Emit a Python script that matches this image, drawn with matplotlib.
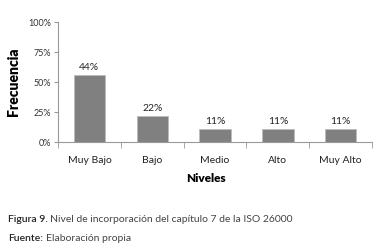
import matplotlib.pyplot as plt
import numpy as np

plt.rcParams['font.family'] = ['Lato', 'DejaVu Sans']

niveles = ["Muy Bajo", "Bajo", "Medio", "Alto", "Muy Alto"]
alturas = [56, 22, 11, 11, 11]
etiquetas = ["44%", "22%", "11%", "11%", "11%"]
yticks = [0, 25, 50, 75, 100]

fig = plt.figure(figsize=(3.77, 2.48), dpi=100)
ax = fig.add_axes([0.154, 0.427, 0.833, 0.484])
x = np.arange(len(niveles))
ax.bar(x, alturas, width=0.5, color="#808080", edgecolor="#bcbcbc", linewidth=0.6)
for xi, h, lab in zip(x, alturas, etiquetas):
    ax.text(xi, h + 2, lab, ha="center", va="bottom", fontsize=7.5, color="#222222")

ax.set_xlim(-0.5, len(niveles) - 0.5)
ax.set_ylim(0, 100)
ax.set_yticks(yticks)
ax.set_yticklabels([f"{v}%" for v in yticks], fontsize=6.5, color="#333333")
ax.set_xticks(x)
ax.set_xticklabels(niveles, fontsize=7.5, color="#222222")
ax.tick_params(axis="x", length=0, pad=10)
ax.set_xticks(np.arange(len(niveles) + 1) - 0.5, minor=True)
ax.tick_params(axis="x", which="minor", length=4, color="#999999")
ax.tick_params(axis="y", length=3, color="#999999", pad=2)
for s in ["top", "right"]:
    ax.spines[s].set_visible(False)
for s in ["left", "bottom"]:
    ax.spines[s].set_color("#999999")
    ax.spines[s].set_linewidth(0.8)

ax.set_ylabel("Frecuencia", fontsize=10, fontweight="heavy", labelpad=6)
ax.set_xlabel("Niveles", fontsize=8.5, fontweight="heavy", labelpad=3)
ax.xaxis.set_label_coords(0.47, -0.26)

fig.text(0.021, 0.113, "Figura 9.", fontsize=7.5, fontweight="semibold", color="#222222", va="center")
fig.text(0.133, 0.113, "Nivel de incorporación del capítulo 7 de la ISO 26000",
         fontsize=7.5, color="#444444", va="center")
fig.text(0.021, 0.04, "Fuente:", fontsize=7.5, fontweight="semibold", color="#222222", va="center")
fig.text(0.122, 0.04, "Elaboración propia", fontsize=7.5, color="#444444", va="center")

fig.savefig("out.png", dpi=100)
